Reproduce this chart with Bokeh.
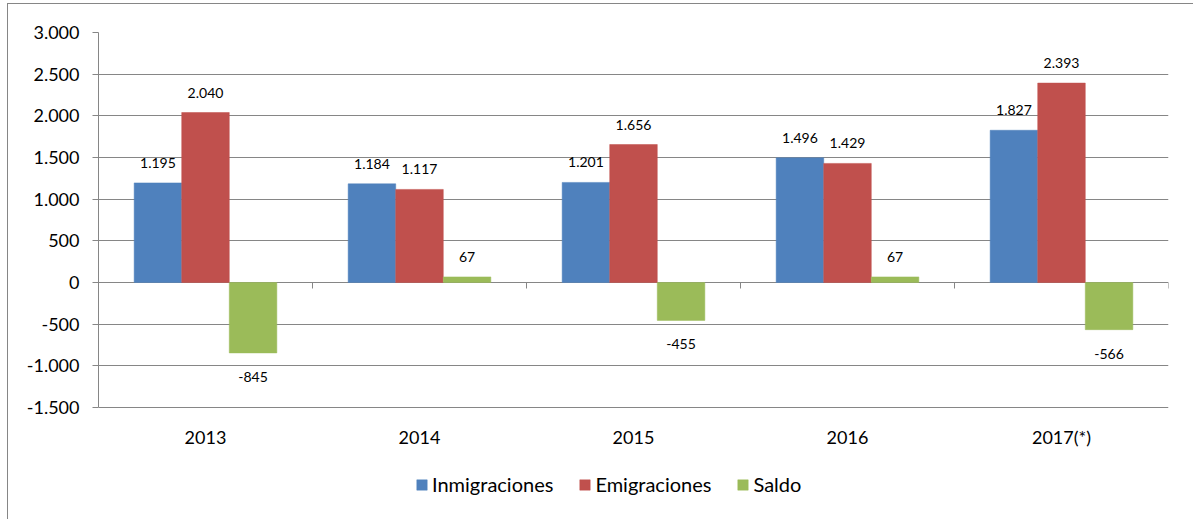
from bokeh.plotting import figure
from bokeh.models import ColumnDataSource, FactorRange, FixedTicker, Legend, LegendItem
from bokeh.transform import dodge
from bokeh.core.properties import value
from bokeh.embed import file_html
from bokeh.resources import INLINE

# ---- data ----
years = ["2013", "2014", "2015", "2016", "2017(*)"]
inmigraciones = [1195, 1184, 1201, 1496, 1827]
emigraciones = [2040, 1117, 1656, 1429, 2393]
saldo = [-845, 67, -455, 67, -566]
series_names = ["Inmigraciones", "Emigraciones", "Saldo"]
y_ticks = [-1500, -1000, -500, 0, 500, 1000, 1500, 2000, 2500, 3000]
y_tick_labels = ["-1.500", "-1.000", "-500", "0", "500", "1.000", "1.500", "2.000", "2.500", "3.000"]

# ---- styles ----
colors = ["#4F81BD", "#C0504D", "#9BBB59"]
GRID = "#868686"
FONT = "Lato"
BAR_W = 1 / 4.5
offsets = [-BAR_W, 0.0, BAR_W]
Y_MIN, Y_MAX = -1500, 3000
# the frame extends below the value axis to host the legend
Y_VIEW_MIN = Y_MIN - (112 / 375) * (Y_MAX - Y_MIN)


def fmt(v):
    return f"{v:,}".replace(",", ".")


p = figure(
    x_range=FactorRange(*years, range_padding=0, factor_padding=0),
    y_range=(Y_VIEW_MIN, Y_MAX),
    frame_width=1070, frame_height=487,
    min_border_left=90, min_border_right=25, min_border_top=28, min_border_bottom=0,
    output_backend="svg", toolbar_location=None,
)
p.styles = {"margin-left": "7px", "position": "relative", "top": "3px",
            "border": "1px solid #868686"}
p.outline_line_color = None
p.background_fill_color = "white"
p.border_fill_color = "white"

# grid
p.xgrid.grid_line_color = None
p.ygrid.ticker = FixedTicker(ticks=y_ticks)
p.ygrid.grid_line_color = GRID
p.ygrid.grid_line_width = 1

# y axis
p.yaxis.ticker = FixedTicker(ticks=y_ticks)
p.yaxis.bounds = (Y_MIN, Y_MAX)
p.yaxis.major_label_overrides = {t: l for t, l in zip(y_ticks, y_tick_labels)}
p.yaxis.axis_line_color = GRID
p.yaxis.major_tick_line_color = GRID
p.yaxis.major_tick_out = 6
p.yaxis.major_tick_in = 0
p.yaxis.minor_tick_line_color = None
p.yaxis.major_label_standoff = 13
p.yaxis.major_label_text_font = FONT
p.yaxis.major_label_text_font_size = "18px"
p.yaxis.major_label_text_color = "black"

# x axis, drawn at the bottom of the value range
p.xaxis.fixed_location = Y_MIN
p.xaxis.axis_line_color = None
p.xaxis.major_tick_line_color = None
p.xaxis.minor_tick_line_color = None
p.xaxis.major_tick_out = 0
p.xaxis.major_label_standoff = 18
p.xaxis.major_label_text_font = FONT
p.xaxis.major_label_text_font_size = "18px"
p.xaxis.major_label_text_color = "black"

src = ColumnDataSource(dict(
    year=years,
    inm=inmigraciones, emi=emigraciones, sal=saldo,
))

# category boundary ticks on the zero line
bounds = list(range(len(years) + 1))
p.segment(x0=bounds, x1=bounds, y0=[0] * len(bounds), y1=[-72] * len(bounds),
          line_color=GRID, line_width=1)

items = []
for col, name, off, c in zip(["inm", "emi", "sal"], series_names, offsets, colors):
    r = p.vbar(x=dodge("year", off, range=p.x_range), top=col, bottom=0, width=BAR_W,
               source=src, fill_color=c, line_color=c, line_width=0.5)
    items.append(LegendItem(label=name, renderers=[r]))

# labels
for off, vals in zip(offsets, [inmigraciones, emigraciones, saldo]):
    pos = [i for i, v in enumerate(vals) if v >= 0]
    neg = [i for i, v in enumerate(vals) if v < 0]
    for idx, yoff in ((pos, -20), (neg, 24)):
        if not idx:
            continue
        s = ColumnDataSource(dict(year=[years[i] for i in idx], v=[vals[i] for i in idx],
                                  t=[fmt(vals[i]) for i in idx]))
        p.text(x=dodge("year", off, range=p.x_range), y="v", text="t", source=s,
               text_align="center", text_baseline="middle", y_offset=yoff,
               text_font=value(FONT), text_font_size="14px", text_color="black")

legend = Legend(items=items, orientation="horizontal", location=(317, 23),
                glyph_width=13, glyph_height=13, label_standoff=4, spacing=25,
                label_text_font=FONT, label_text_font_size="20px", label_text_color="black",
                padding=0, margin=0, border_line_color=None, background_fill_alpha=0)
p.add_layout(legend, "center")

open("out.html", "w").write(file_html(p, INLINE))
